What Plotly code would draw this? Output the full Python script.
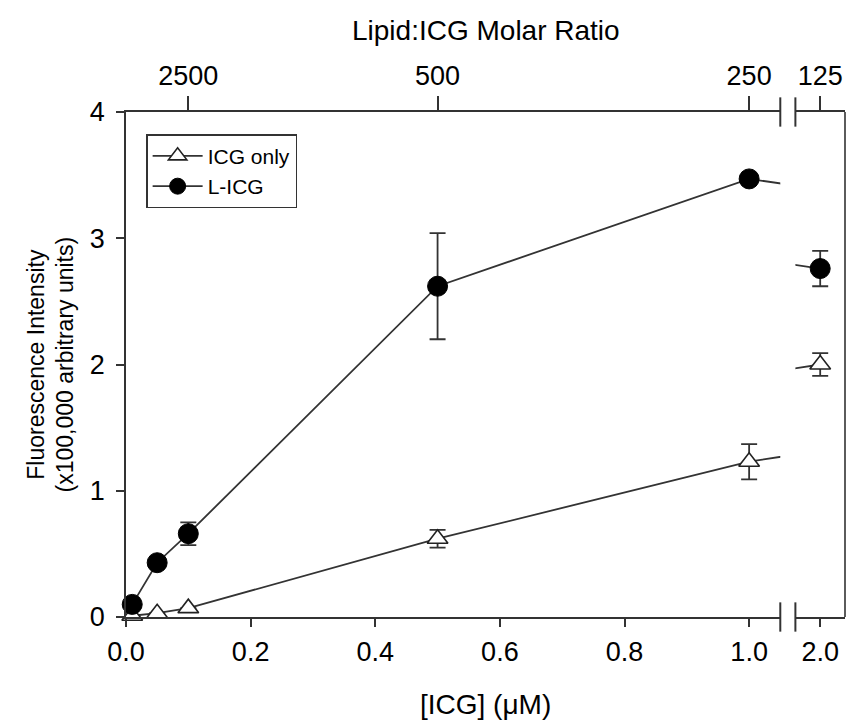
import plotly.graph_objects as go

# ---- data ----
icg_conc = [0.01, 0.05, 0.1, 0.5, 1.0]
icg_conc_break = [2.0]
ratio_ticks = [0.1, 0.5, 1.0]
ratio_labels = ["2500", "500", "250"]
ratio_break_labels = ["125"]

icg_only = [0.01, 0.03, 0.07, 0.62, 1.23]
icg_only_err = [0.0, 0.0, 0.0, 0.07, 0.14]
icg_only_break = [2.0]
icg_only_break_err = [0.09]

l_icg = [0.10, 0.43, 0.66, 2.62, 3.47]
l_icg_err = [0.0, 0.0, 0.09, 0.42, 0.03]
l_icg_break = [2.76]
l_icg_break_err = [0.14]

x_ticks = [0.0, 0.2, 0.4, 0.6, 0.8, 1.0]
x_tick_labels = ["0.0", "0.2", "0.4", "0.6", "0.8", "1.0"]
y_ticks = [0, 1, 2, 3, 4]

FONT = "Liberation Sans, Arial, sans-serif"
FS = 27
MAIN_MAX = 1.05
BRK_MIN, BRK_MAX = 1.96, 2.04
D1, D2 = 0.910, 0.931
LC = "#333"

fig = go.Figure()

line_style = dict(color=LC, width=1.8)
# connecting lines (continue across the break; each axis clips its own part)
for ys, yb in ((icg_only, icg_only_break), (l_icg, l_icg_break)):
    for xa in ("x", "x3"):
        fig.add_trace(go.Scatter(x=icg_conc + icg_conc_break, y=ys + yb, mode="lines",
                                 line=line_style, xaxis=xa, yaxis="y",
                                 showlegend=False, hoverinfo="skip"))

err_style = dict(type="data", thickness=1.8, width=8, color=LC)
tri = dict(symbol="triangle-up", size=18, color="white", line=dict(color="#222", width=1.6))
circ = dict(symbol="circle", size=20, color="black", line=dict(color="black", width=1))

fig.add_trace(go.Scatter(x=icg_conc, y=icg_only, mode="markers", showlegend=False,
                         marker=tri, error_y=dict(array=icg_only_err, **err_style),
                         xaxis="x", yaxis="y", cliponaxis=False))
fig.add_trace(go.Scatter(x=icg_conc, y=l_icg, mode="markers", showlegend=False,
                         marker=circ, error_y=dict(array=l_icg_err, **err_style),
                         xaxis="x", yaxis="y", cliponaxis=False))
fig.add_trace(go.Scatter(x=icg_conc_break, y=icg_only_break, mode="markers", showlegend=False,
                         marker=tri, error_y=dict(array=icg_only_break_err, **err_style),
                         xaxis="x3", yaxis="y", cliponaxis=False))
fig.add_trace(go.Scatter(x=icg_conc_break, y=l_icg_break, mode="markers", showlegend=False,
                         marker=circ, error_y=dict(array=l_icg_break_err, **err_style),
                         xaxis="x3", yaxis="y", cliponaxis=False))

# legend entries (line + marker symbol)
fig.add_trace(go.Scatter(x=[None], y=[None], mode="lines+markers", name="ICG only",
                         line=line_style, marker=tri, xaxis="x", yaxis="y"))
fig.add_trace(go.Scatter(x=[None], y=[None], mode="lines+markers", name="L-ICG",
                         line=line_style, marker=circ, xaxis="x", yaxis="y"))

# dummy traces so the top axes render
fig.add_trace(go.Scatter(x=[0.5], y=[0], xaxis="x2", yaxis="y", mode="markers",
                         marker=dict(opacity=0), showlegend=False, hoverinfo="skip"))
fig.add_trace(go.Scatter(x=[2.0], y=[0], xaxis="x4", yaxis="y", mode="markers",
                         marker=dict(opacity=0), showlegend=False, hoverinfo="skip"))

axis_common = dict(showline=True, linecolor=LC, linewidth=1.6, ticks="outside",
                   tickcolor=LC, tickwidth=1.6, showgrid=False, zeroline=False,
                   automargin=False, fixedrange=True,
                   tickfont=dict(family=FONT, size=FS, color="black"))

fig.update_layout(
    width=846, height=724,
    margin=dict(l=126, r=1, t=112, b=107),
    paper_bgcolor="white", plot_bgcolor="white",
    font=dict(family=FONT, size=FS, color="black"),
    xaxis=dict(domain=[0, D1], range=[0, MAIN_MAX], tickvals=x_ticks, ticktext=x_tick_labels,
               ticklen=8, anchor="y", ticklabelstandoff=2, **axis_common),
    xaxis2=dict(overlaying="x", side="top", range=[0, MAIN_MAX], tickvals=ratio_ticks,
                ticktext=ratio_labels, ticklen=14, anchor="y", **axis_common),
    xaxis3=dict(domain=[D2, 1], range=[BRK_MIN, BRK_MAX], tickvals=icg_conc_break,
                ticktext=["2.0"], ticklen=8, anchor="y", ticklabelstandoff=2, **axis_common),
    xaxis4=dict(overlaying="x3", side="top", range=[BRK_MIN, BRK_MAX], tickvals=icg_conc_break,
                ticktext=ratio_break_labels, ticklen=14, anchor="y", **axis_common),
    yaxis=dict(domain=[0, 1], range=[0, 4], tickvals=y_ticks, ticklen=8, anchor="x",
               ticklabelstandoff=6, **axis_common),
    legend=dict(x=0.028, y=0.956, xanchor="left", yanchor="top", bgcolor="white",
                bordercolor=LC, borderwidth=1.5, font=dict(family=FONT, size=21),
                tracegroupgap=0, itemwidth=50),
    showlegend=True,
)

# right border
fig.add_shape(type="line", xref="paper", yref="paper", x0=1, x1=1, y0=0, y1=1,
              line=dict(color=LC, width=1.6))
# break marks (double lines) on top and bottom axes
for xp in (D1, D2):
    for yc in (0, 1):
        fig.add_shape(type="line", xref="paper", yref="paper", x0=xp, x1=xp,
                      y0=yc - 0.029, y1=yc + 0.029, line=dict(color=LC, width=2))

fig.add_annotation(text="Lipid:ICG Molar Ratio", xref="paper", yref="paper", x=0.5, y=1,
                   yanchor="middle", yshift=82, showarrow=False,
                   font=dict(family=FONT, size=28))
fig.add_annotation(text="[ICG] (μM)", xref="paper", yref="paper", x=0.5, y=0,
                   yanchor="middle", yshift=-87, showarrow=False,
                   font=dict(family=FONT, size=28))
fig.add_annotation(text="Fluorescence Intensity<br>(x100,000 arbitrary units)",
                   xref="paper", yref="paper", x=0, y=0.5, xanchor="center",
                   yanchor="middle", xshift=-76, textangle=-90, showarrow=False,
                   font=dict(family=FONT, size=23))

fig.write_html("out.html", post_script="document.body.style.margin='0';",
               config={"displayModeBar": False})
